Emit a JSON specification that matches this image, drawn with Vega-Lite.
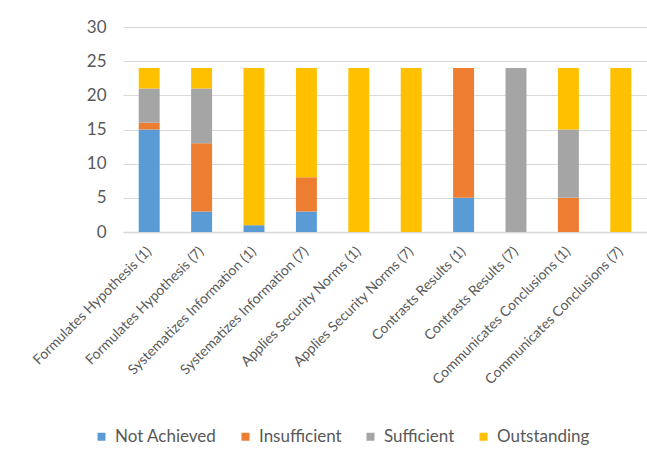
{
  "$schema": "https://vega.github.io/schema/vega-lite/v6.json",
  "width": 524,
  "height": 205,
  "autosize": {"type": "none"},
  "padding": {"left": 123, "top": 27, "right": 0, "bottom": 219},
  "background": "white",
  "data": {
    "values": [
      {"skill": "Formulates Hypothesis (1)", "level": "Not Achieved", "o": 1, "n": 15},
      {"skill": "Formulates Hypothesis (1)", "level": "Insufficient", "o": 2, "n": 1},
      {"skill": "Formulates Hypothesis (1)", "level": "Sufficient", "o": 3, "n": 5},
      {"skill": "Formulates Hypothesis (1)", "level": "Outstanding", "o": 4, "n": 3},
      {"skill": "Formulates Hypothesis (7)", "level": "Not Achieved", "o": 1, "n": 3},
      {"skill": "Formulates Hypothesis (7)", "level": "Insufficient", "o": 2, "n": 10},
      {"skill": "Formulates Hypothesis (7)", "level": "Sufficient", "o": 3, "n": 8},
      {"skill": "Formulates Hypothesis (7)", "level": "Outstanding", "o": 4, "n": 3},
      {"skill": "Systematizes Information (1)", "level": "Not Achieved", "o": 1, "n": 1},
      {"skill": "Systematizes Information (1)", "level": "Insufficient", "o": 2, "n": 0},
      {"skill": "Systematizes Information (1)", "level": "Sufficient", "o": 3, "n": 0},
      {"skill": "Systematizes Information (1)", "level": "Outstanding", "o": 4, "n": 23},
      {"skill": "Systematizes Information (7)", "level": "Not Achieved", "o": 1, "n": 3},
      {"skill": "Systematizes Information (7)", "level": "Insufficient", "o": 2, "n": 5},
      {"skill": "Systematizes Information (7)", "level": "Sufficient", "o": 3, "n": 0},
      {"skill": "Systematizes Information (7)", "level": "Outstanding", "o": 4, "n": 16},
      {"skill": "Applies Security Norms (1)", "level": "Not Achieved", "o": 1, "n": 0},
      {"skill": "Applies Security Norms (1)", "level": "Insufficient", "o": 2, "n": 0},
      {"skill": "Applies Security Norms (1)", "level": "Sufficient", "o": 3, "n": 0},
      {"skill": "Applies Security Norms (1)", "level": "Outstanding", "o": 4, "n": 24},
      {"skill": "Applies Security Norms (7)", "level": "Not Achieved", "o": 1, "n": 0},
      {"skill": "Applies Security Norms (7)", "level": "Insufficient", "o": 2, "n": 0},
      {"skill": "Applies Security Norms (7)", "level": "Sufficient", "o": 3, "n": 0},
      {"skill": "Applies Security Norms (7)", "level": "Outstanding", "o": 4, "n": 24},
      {"skill": "Contrasts Results (1)", "level": "Not Achieved", "o": 1, "n": 5},
      {"skill": "Contrasts Results (1)", "level": "Insufficient", "o": 2, "n": 19},
      {"skill": "Contrasts Results (1)", "level": "Sufficient", "o": 3, "n": 0},
      {"skill": "Contrasts Results (1)", "level": "Outstanding", "o": 4, "n": 0},
      {"skill": "Contrasts Results (7)", "level": "Not Achieved", "o": 1, "n": 0},
      {"skill": "Contrasts Results (7)", "level": "Insufficient", "o": 2, "n": 0},
      {"skill": "Contrasts Results (7)", "level": "Sufficient", "o": 3, "n": 24},
      {"skill": "Contrasts Results (7)", "level": "Outstanding", "o": 4, "n": 0},
      {"skill": "Communicates Conclusions (1)", "level": "Not Achieved", "o": 1, "n": 0},
      {"skill": "Communicates Conclusions (1)", "level": "Insufficient", "o": 2, "n": 5},
      {"skill": "Communicates Conclusions (1)", "level": "Sufficient", "o": 3, "n": 10},
      {"skill": "Communicates Conclusions (1)", "level": "Outstanding", "o": 4, "n": 9},
      {"skill": "Communicates Conclusions (7)", "level": "Not Achieved", "o": 1, "n": 0},
      {"skill": "Communicates Conclusions (7)", "level": "Insufficient", "o": 2, "n": 0},
      {"skill": "Communicates Conclusions (7)", "level": "Sufficient", "o": 3, "n": 0},
      {"skill": "Communicates Conclusions (7)", "level": "Outstanding", "o": 4, "n": 24}
    ]
  },
  "mark": {"type": "bar"},
  "encoding": {
    "x": {
      "field": "skill",
      "type": "nominal",
      "sort": null,
      "scale": {"paddingInner": 0.6, "paddingOuter": 0.3},
      "axis": {
        "title": null,
        "labelAngle": -45,
        "labelAlign": "right",
        "labelBaseline": "middle",
        "labelFont": "Lato",
        "labelFontSize": 14,
        "labelColor": "#595959",
        "labelPadding": 17,
        "labelLimit": 400,
        "labelOverlap": false,
        "ticks": false,
        "domain": true,
        "domainColor": "#d9d9d9",
        "domainWidth": 1.5,
        "grid": false
      }
    },
    "y": {
      "field": "n",
      "type": "quantitative",
      "stack": "zero",
      "scale": {"domain": [0, 30], "nice": false},
      "axis": {
        "title": null,
        "values": [0, 5, 10, 15, 20, 25, 30],
        "labelFont": "Lato",
        "labelFontSize": 17,
        "labelColor": "#595959",
        "labelPadding": 17,
        "ticks": false,
        "domain": false,
        "gridColor": "#d9d9d9",
        "gridWidth": 1.2
      }
    },
    "color": {
      "field": "level",
      "type": "nominal",
      "scale": {
        "domain": ["Not Achieved", "Insufficient", "Sufficient", "Outstanding"],
        "range": ["#5B9BD5", "#ED7D31", "#A5A5A5", "#FFC000"]
      },
      "legend": {
        "title": null,
        "orient": "none",
        "direction": "horizontal",
        "legendX": -30,
        "legendY": 401,
        "symbolType": "square",
        "symbolSize": 64,
        "symbolStrokeWidth": 0,
        "labelFont": "Lato",
        "labelFontSize": 17,
        "labelColor": "#595959",
        "labelOffset": 5,
        "columnPadding": 20
      }
    },
    "order": {"field": "o", "type": "quantitative"}
  },
  "config": {
    "view": {"stroke": null}
  }
}
